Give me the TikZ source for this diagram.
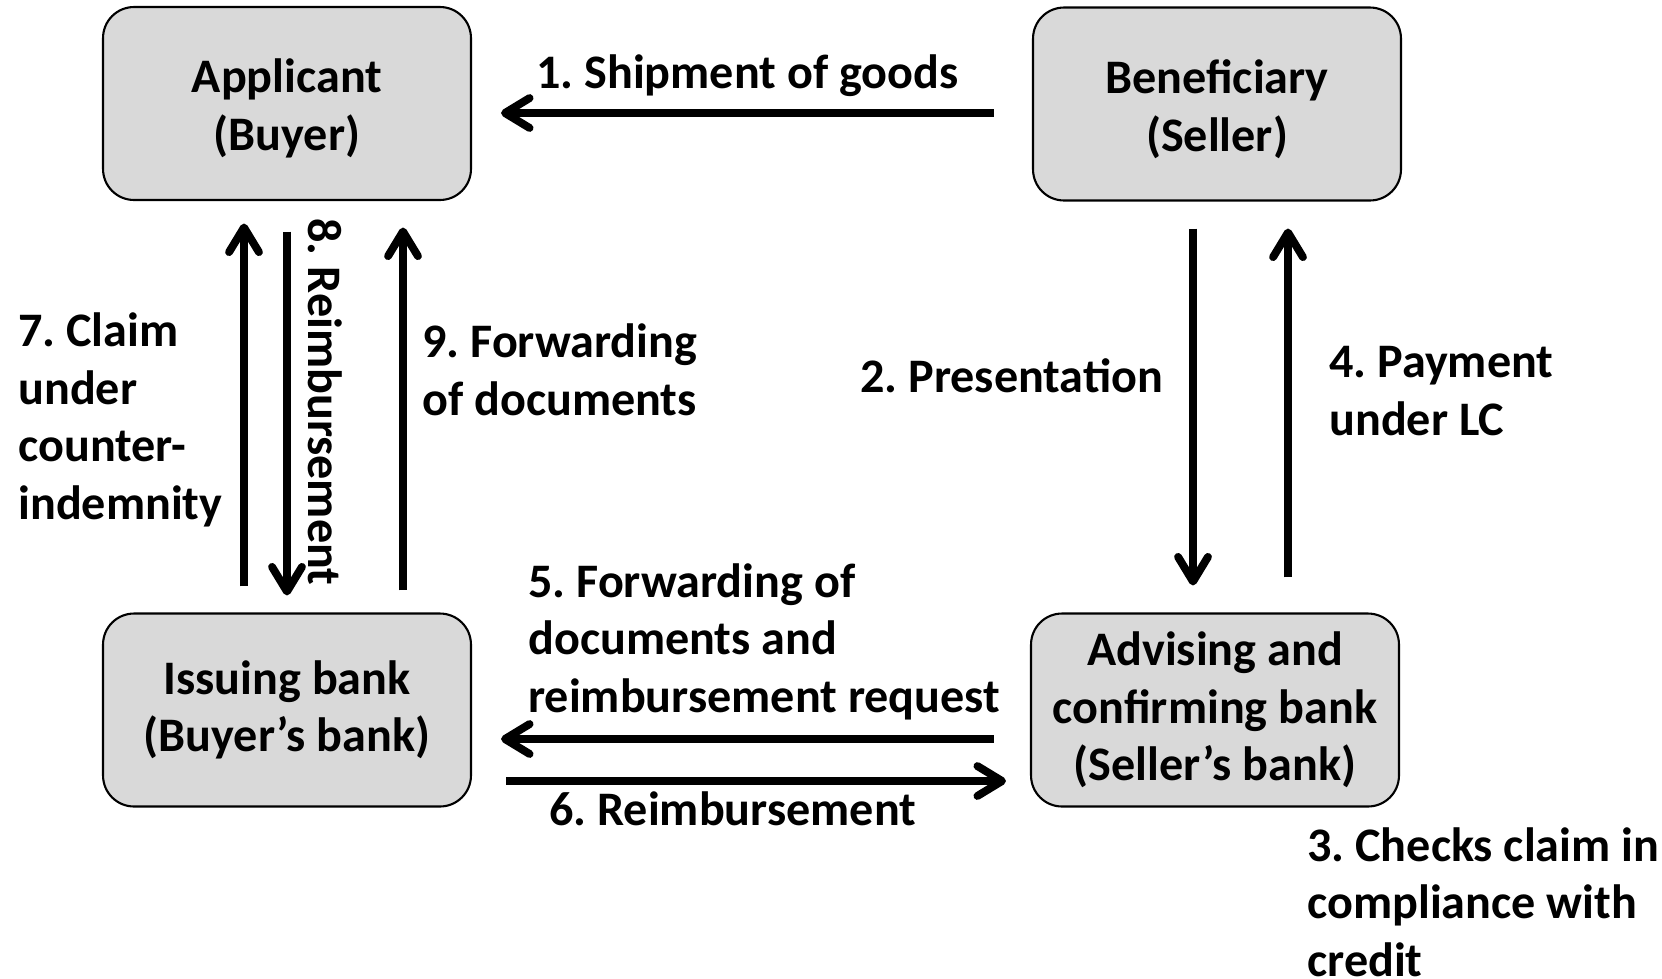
\documentclass[tikz,border=0pt]{standalone}
\usepackage{fontspec}
\setmainfont{Carlito}
\usetikzlibrary{arrows.meta,calc}
\definecolor{boxfill}{HTML}{D9D9D9}
\definecolor{ink}{HTML}{000000}

% taller first line, sets the text of the top boxes a little lower
\newcommand{\lowerline}{\rule{0pt}{25pt}}

\tikzset{
  party/.style={draw=ink,line width=1.2pt,fill=boxfill,rounded corners=0.62cm,
    minimum width=7.36cm,minimum height=3.86cm,align=center,inner sep=0pt},
  flow/.style={ink,line width=4.5pt,
    -{Straight Barb[length=14pt,width=17pt,round]}},
  lbl/.style={anchor=base west,align=left,inner sep=0pt}
}

\begin{document}
\frenchspacing
\begin{tikzpicture}[x=0.02cm,y=-0.02cm,text=ink,
    font=\fontsize{27.4pt}{32.7pt}\selectfont\bfseries]
  % one unit is one pixel of the 1662 x 978 page
  \useasboundingbox (0,0) rectangle (1662,978);

  % the four parties of the credit
  \node[party] (app) at (287,103.5) {\lowerline Applicant\\(Buyer)};
  \node[party] (ben) at (1217,104) {\lowerline Beneficiary\\(Seller)};
  \node[party] (iss) at (287,710) {Issuing bank\\(Buyer’s bank)};
  \node[party] (adv) at (1215,710)
    {Advising and\\confirming bank\\(Seller’s bank)};

  % goods and documents between the top and bottom rows
  \draw[flow] ($(ben.west)+(-38,9)$) -- ($(app.east)+(29,9.5)$);
  \draw[flow] ($(ben.south)+(-24,27)$) -- ($(adv.north)+(-22,-27)$);
  \draw[flow] ($(adv.north)+(73,-35)$) -- ($(ben.south)+(71,27)$);
  \draw[flow] ($(adv.west)+(-36,29)$) -- ($(iss.east)+(29,29)$);
  \draw[flow] ($(iss.east)+(34,71)$) -- ($(adv.west)+(-24,71)$);
  \draw[flow] ($(iss.north)+(-43,-26)$) -- ($(app.south)+(-43,22.5)$);
  \draw[flow] ($(app.south)+(0,30.5)$) -- ($(iss.north)+(0,-17)$);
  \draw[flow] ($(iss.north)+(116,-22)$) -- ($(app.south)+(116,26.5)$);

  % numbered steps (base = baseline of the last line)
  \node[lbl] (l1) at (536,88) {1. Shipment of goods};
  \node[lbl] (l2) at (860,392) {2. Presentation};
  \node[lbl] (l3) at (1307,976) {3. Checks claim in\\compliance with\\credit};
  \node[lbl] (l4) at (1329,435) {4. Payment\\under LC};
  \node[lbl] (l5) at (528,712)
    {5. Forwarding of\\documents and\\reimbursement request};
  \node[lbl] (l6) at (549,825) {6. Reimbursement};
  \node[lbl] (l7) at (18,519) {7. Claim\\under\\counter-\\indemnity};
  \node[rotate=-90,inner sep=0pt] (l8) at (325,402) {8. Reimbursement};
  \node[lbl] (l9) at (422,415) {9. Forwarding\\of documents};
\end{tikzpicture}
\end{document}
